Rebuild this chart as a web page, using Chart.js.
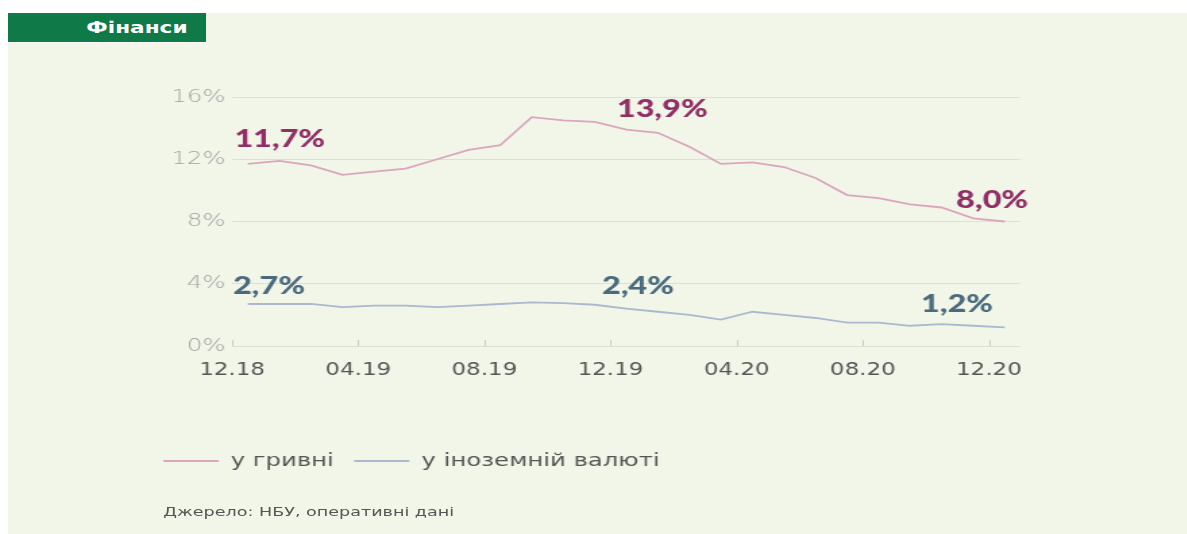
<!DOCTYPE html>
<html>
<head>
<meta charset="utf-8">
<script src="https://cdn.jsdelivr.net/npm/chart.js@4.4.1/dist/chart.umd.min.js"></script>
<style>
  html, body { margin: 0; padding: 0; background: #ffffff; }
  body { width: 1187px; height: 534px; overflow: hidden; position: relative; }
  #wrap {
    position: absolute; left: 8px; top: 13px;
    width: 873px; height: 521px;
    background: #f2f6e9;
    transform: scaleX(1.35); transform-origin: 0 0;
  }
  #head {
    position: absolute; left: 0; top: 0; width: 146px; height: 29px;
    background: #0f7a47; color: #fff;
    font: bold 16px 'DejaVu Sans', sans-serif; line-height: 29px;
    text-align: right; padding-right: 13px; box-sizing: border-box;
  }
  #source {
    position: absolute; left: 115px; top: 491px;
    font: 13px 'DejaVu Sans', sans-serif; line-height: 16px; color: #555;
  }
  canvas { position: absolute; left: 0; top: 0; }
</style>
</head>
<body>
<div id="wrap">
  <canvas id="myChart" width="873" height="521"></canvas>
  <div id="head">Фінанси</div>
  <div id="source">Джерело: НБУ, оперативні дані</div>
</div>
<script>
// monthly, Dec 2018 .. Dec 2020
var months = ['12.18', '01.19', '02.19', '03.19', '04.19', '05.19', '06.19', '07.19', '08.19', '09.19', '10.19', '11.19',
              '12.19', '01.20', '02.20', '03.20', '04.20', '05.20', '06.20', '07.20', '08.20', '09.20', '10.20', '11.20', '12.20'];
var hryvnia = [11.7, 11.9, 11.6, 11.0, 11.2, 11.4, 12.0, 12.6, 12.9, 14.7, 14.5, 14.4,
               13.9, 13.7, 12.8, 11.7, 11.8, 11.5, 10.8, 9.7, 9.5, 9.1, 8.9, 8.2, 8.0];
var foreign = [2.7, 2.7, 2.7, 2.5, 2.6, 2.6, 2.5, 2.6, 2.7, 2.8, 2.75, 2.65,
               2.4, 2.2, 2.0, 1.7, 2.2, 2.0, 1.8, 1.5, 1.5, 1.3, 1.4, 1.3, 1.2];
var seriesNames = ['у гривні', 'у іноземній валюті'];
var tickMonths = ['12.18', '04.19', '08.19', '12.19', '04.20', '08.20', '12.20'];
var yTicks = [0, 4, 8, 12, 16];

var pinkLine = '#dba6bd', pinkText = '#912e66';
var blueLine = '#aab9cf', blueText = '#4b6a7e';

function points(arr) {
    return arr.map(function (v, i) { return {x: i, y: v}; });
}

// value callouts: [dataset, index, dx, dy]
var callouts = [
    [0, 0, -10, -25], [0, 12, -7, -20], [0, 24, -36, -21],
    [1, 0, -11, -18], [1, 12, -18, -22], [1, 24, -62, -23]
];

var extras = {
    id: 'extras',
    beforeDatasetsDraw: function (chart) {
        var c = chart.ctx, xs = chart.scales.x, bottom = chart.chartArea.bottom;
        c.save();
        c.strokeStyle = '#c9ccc3';
        c.lineWidth = 1;
        xs.ticks.forEach(function (t) {
            var x = Math.round(xs.getPixelForValue(t.value)) + 0.5;
            c.beginPath();
            c.moveTo(x, bottom);
            c.lineTo(x, bottom - 6);
            c.stroke();
        });
        c.restore();
    },
    afterDatasetsDraw: function (chart) {
        var c = chart.ctx;
        c.save();
        c.font = '900 24px Lato';
        c.textBaseline = 'middle';
        c.textAlign = 'left';
        callouts.forEach(function (k) {
            var el = chart.getDatasetMeta(k[0]).data[k[1]];
            var v = chart.data.datasets[k[0]].data[k[1]].y;
            c.fillStyle = k[0] === 0 ? pinkText : blueText;
            c.fillText(v.toFixed(1).replace('.', ',') + '%', el.x + k[2], el.y + k[3]);
        });
        c.restore();
    }
};

Chart.defaults.font.family = "'DejaVu Sans', sans-serif";

var ctx = document.getElementById('myChart').getContext('2d');
var myChart = new Chart(ctx, {
    type: 'line',
    data: {
        datasets: [{
            label: seriesNames[0],
            data: points(hryvnia),
            borderColor: pinkLine,
            backgroundColor: pinkLine,
            borderWidth: 1.8,
            pointRadius: 0,
            tension: 0
        }, {
            label: seriesNames[1],
            data: points(foreign),
            borderColor: blueLine,
            backgroundColor: blueLine,
            borderWidth: 1.8,
            pointRadius: 0,
            tension: 0
        }]
    },
    options: {
        responsive: false,
        devicePixelRatio: 1,
        animation: false,
        layout: {
            padding: {left: 100, right: 123, top: 84, bottom: 54}
        },
        plugins: {
            tooltip: {enabled: false},
            legend: {
                position: 'bottom',
                align: 'start',
                labels: {
                    boxWidth: 41,
                    boxHeight: 2,
                    padding: 15,
                    color: '#555',
                    font: {size: 18},
                    generateLabels: function (chart) {
                        return chart.data.datasets.map(function (d, i) {
                            return {text: d.label, fillStyle: d.borderColor, strokeStyle: d.borderColor,
                                    lineWidth: 0, fontColor: '#555', datasetIndex: i};
                        });
                    }
                }
            }
        },
        scales: {
            x: {
                type: 'linear',
                min: -0.5,
                max: months.length - 0.5,
                grid: {display: false},
                border: {display: false},
                afterBuildTicks: function (scale) {
                    scale.ticks = tickMonths.map(function (m) { return {value: months.indexOf(m) - 0.5}; });
                },
                afterFit: function (scale) { scale.height = 91; },
                ticks: {
                    padding: 6,
                    color: '#555',
                    font: {size: 17},
                    maxRotation: 0,
                    autoSkip: false,
                    callback: function (v) { return months[v + 0.5]; }
                }
            },
            y: {
                min: yTicks[0],
                max: yTicks[yTicks.length - 1],
                afterBuildTicks: function (scale) {
                    scale.ticks = yTicks.map(function (v) { return {value: v}; });
                },
                afterFit: function (scale) { scale.width = 66; },
                grid: {color: '#dde0d6', drawTicks: false},
                border: {display: false},
                ticks: {
                    padding: 5,
                    color: '#a0a0a0',
                    font: {size: 18, weight: '300'},
                    callback: function (v) { return v + '%'; }
                }
            }
        }
    },
    plugins: [extras]
});
</script>
</body>
</html>
